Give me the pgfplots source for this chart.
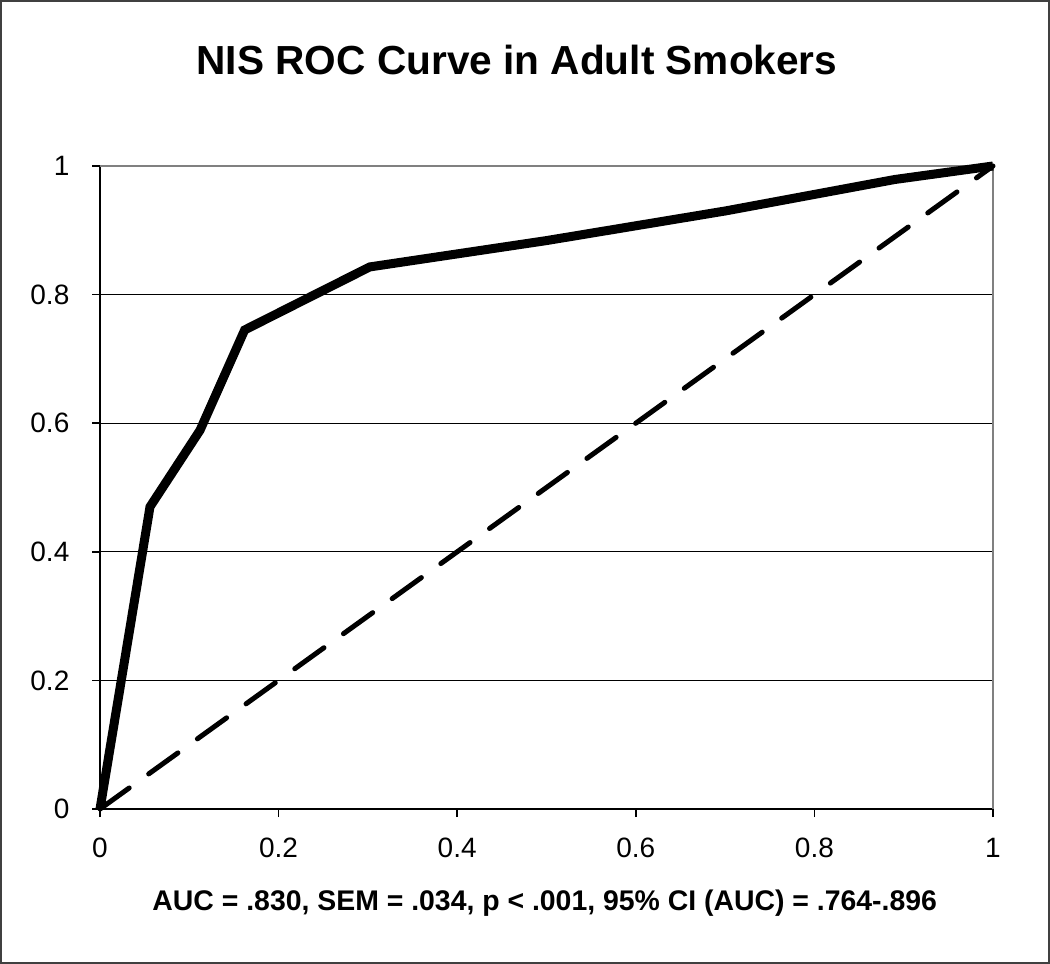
\documentclass[border=0pt]{standalone}
\usepackage{pgfplots}
\pgfplotsset{compat=1.18}
\usepackage{fontspec}
\setmainfont{Liberation Sans}

\pgfplotstableread{
fpr tpr
0     0
0.056 0.470
0.112 0.589
0.162 0.745
0.302 0.843
0.500 0.884
0.700 0.930
0.890 0.979
1     1
}\roc

\begin{document}
\begin{tikzpicture}
\useasboundingbox (0,0) rectangle (525pt,482pt);
\draw[line width=1pt, black!75] (0.5pt,0.5pt) rectangle (524.5pt,481.5pt);
\begin{axis}[
    at={(50pt,77.5pt)}, anchor=south west,
    scale only axis,
    width=446.5pt, height=321.5pt,
    xmin=0, xmax=1, ymin=0, ymax=1,
    axis x line*=bottom, axis y line*=left,
    axis line style={line width=0.9pt, black},
    xtick={0,0.2,...,1}, ytick={0,0.2,...,1},
    tick align=outside, major tick length=4pt,
    tick style={line width=0.8pt, black},
    ymajorgrids, major grid style={line width=0.6pt, black},
    tick label style={font=\fontsize{14}{16}\selectfont},
    /pgf/number format/assume math mode=true,
    /pgf/number format/fixed,
    xticklabel style={yshift=-7pt},
    yticklabel style={xshift=-7.8pt},
    title={\bfseries NIS ROC Curve in Adult Smokers},
    title style={at={(rel axis cs:0.467,1.146)}, anchor=center, yshift=0pt, font=\fontsize{20.3}{24}\selectfont},
    xlabel={\bfseries AUC = .830, SEM = .034, p < .001, 95\% CI (AUC) = .764-.896},
    xlabel style={at={(rel axis cs:0.498,-0.146)}, anchor=center, font=\fontsize{14.2}{17}\selectfont},
    clip=false,
]
\draw[line width=0.9pt, black!50] (rel axis cs:0,1) -- (rel axis cs:1,1) -- (rel axis cs:1,0);
\addplot[black, line width=2.5pt, dash pattern=on 18pt off 12pt, line cap=round] coordinates {(0,0) (1,1)};
\addplot[black, line width=4.5pt, line join=miter] table[x=fpr, y=tpr] {\roc};
\end{axis}
\end{tikzpicture}
\end{document}
